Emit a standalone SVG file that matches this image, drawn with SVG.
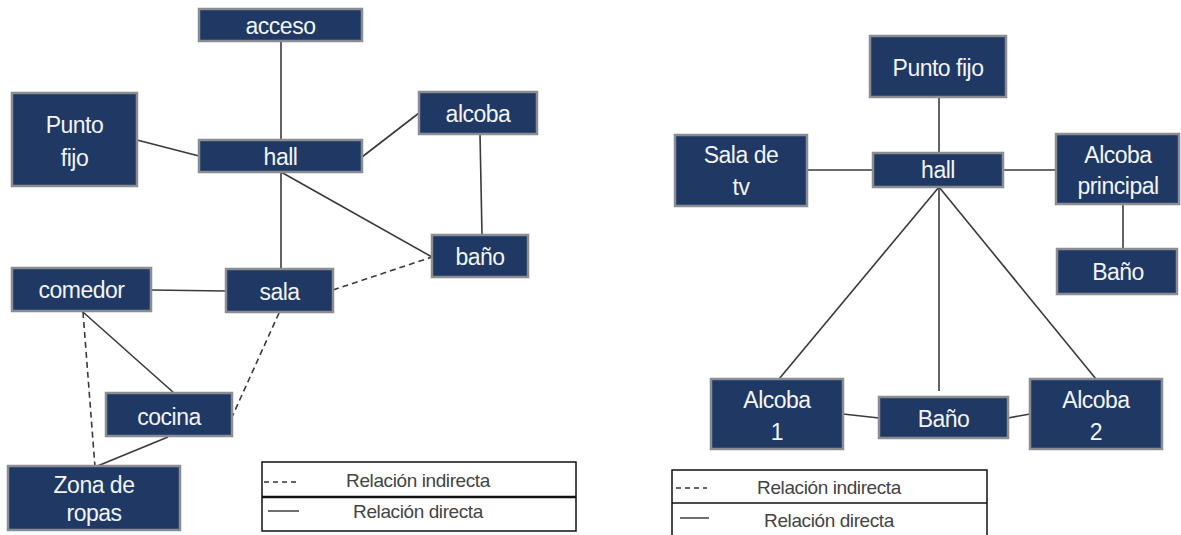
<svg xmlns="http://www.w3.org/2000/svg" width="1181" height="535" viewBox="0 0 1181 535">
<style>
.n rect{fill:#1f3864;stroke:#8a8d92;stroke-width:2.5}
.n text{fill:#f2f4f8;font-family:"Liberation Sans",Arial,sans-serif;font-size:23px;text-anchor:middle;letter-spacing:-0.5px}
.c line{stroke:#3a3a3a;stroke-width:1.6;fill:none}
.c line.d{stroke-dasharray:6 4}
.lg rect,.lg line.b{fill:#fff;stroke:#111;stroke-width:1.5}
.lg line{stroke:#333;stroke-width:1.4}
.lg line.d{stroke-dasharray:5 4}
.lg text{fill:#444;font-family:"Liberation Sans",Arial,sans-serif;font-size:19px;text-anchor:middle;letter-spacing:-0.4px}
</style>
<rect width="1181" height="535" fill="#fff"/>
<g class="c" id="connectors">
<line x1="281" y1="41" x2="281" y2="140"/>
<line x1="137" y1="140" x2="199" y2="156"/>
<line x1="362" y1="157" x2="419" y2="113"/>
<line x1="480" y1="134" x2="482" y2="235"/>
<line x1="281" y1="172" x2="432" y2="257"/>
<line x1="281" y1="172" x2="281" y2="269"/>
<line x1="151" y1="290" x2="226" y2="291"/>
<line class="d" x1="333" y1="290" x2="432" y2="257"/>
<line x1="83" y1="312" x2="174" y2="393"/>
<line class="d" x1="83" y1="312" x2="95" y2="467"/>
<line class="d" x1="279" y1="313" x2="232" y2="417"/>
<line x1="168" y1="437" x2="95" y2="467"/>
<line x1="939" y1="97" x2="939" y2="153"/>
<line x1="807" y1="170" x2="873" y2="170"/>
<line x1="1003" y1="170" x2="1056" y2="170"/>
<line x1="1123" y1="204" x2="1123" y2="249"/>
<line x1="939" y1="187" x2="779" y2="379"/>
<line x1="939" y1="187" x2="939" y2="391"/>
<line x1="939" y1="187" x2="1096" y2="379"/>
<line x1="843" y1="414" x2="879" y2="418"/>
<line x1="1008" y1="418" x2="1030" y2="414"/>
</g>
<g class="n" id="acceso"><rect x="199" y="9" width="163" height="32"/><text x="280.5" y="34">acceso</text></g>
<g class="n" id="punto-fijo-1"><rect x="12" y="93" width="125" height="93"/><text x="74.5" y="133">Punto</text><text x="74.5" y="166">fijo</text></g>
<g class="n" id="hall-1"><rect x="199" y="140" width="163" height="32"/><text x="280.5" y="165">hall</text></g>
<g class="n" id="alcoba"><rect x="419" y="92" width="118" height="42"/><text x="478" y="122">alcoba</text></g>
<g class="n" id="bano-1"><rect x="432" y="235" width="96" height="42"/><text x="480" y="265">baño</text></g>
<g class="n" id="comedor"><rect x="12" y="268" width="139" height="43"/><text x="81.5" y="298">comedor</text></g>
<g class="n" id="sala"><rect x="226" y="269" width="107" height="43"/><text x="279.5" y="300">sala</text></g>
<g class="n" id="cocina"><rect x="106" y="393" width="126" height="43"/><text x="169" y="425">cocina</text></g>
<g class="n" id="zona-de-ropas"><rect x="8" y="466" width="172" height="64"/><text x="94" y="493">Zona de</text><text x="94" y="521">ropas</text></g>
<g class="n" id="punto-fijo-2"><rect x="870" y="36" width="136" height="61"/><text x="938" y="76">Punto fijo</text></g>
<g class="n" id="hall-2"><rect x="873" y="153" width="130" height="34"/><text x="938" y="178">hall</text></g>
<g class="n" id="sala-de-tv"><rect x="675" y="135" width="132" height="71"/><text x="741" y="163">Sala de</text><text x="741" y="195">tv</text></g>
<g class="n" id="alcoba-principal"><rect x="1056" y="134" width="123" height="70"/><text x="1118" y="163">Alcoba</text><text x="1118" y="194">principal</text></g>
<g class="n" id="bano-2"><rect x="1057" y="249" width="120" height="45"/><text x="1118" y="280">Baño</text></g>
<g class="n" id="alcoba-1"><rect x="711" y="379" width="132" height="70"/><text x="777" y="408">Alcoba</text><text x="777" y="440">1</text></g>
<g class="n" id="bano-3"><rect x="879" y="397" width="129" height="41"/><text x="943.5" y="427">Baño</text></g>
<g class="n" id="alcoba-2"><rect x="1030" y="379" width="132" height="70"/><text x="1096" y="408">Alcoba</text><text x="1096" y="440">2</text></g>
<g class="lg" id="legend-1">
<rect x="262" y="462" width="314" height="69"/>
<line class="b" x1="262" y1="497" x2="576" y2="497" style="stroke-width:2.5"/>
<line class="d" x1="264" y1="482" x2="296" y2="482"/>
<line x1="268" y1="511" x2="299" y2="511"/>
<text x="418" y="487">Relación indirecta</text>
<text x="418" y="518">Relación directa</text>
</g>
<g class="lg" id="legend-2">
<rect x="672" y="470" width="315" height="75"/>
<line class="b" x1="672" y1="503" x2="987" y2="503"/>
<line class="d" x1="676" y1="488" x2="707" y2="488"/>
<line x1="680" y1="518" x2="709" y2="518"/>
<text x="829" y="494">Relación indirecta</text>
<text x="829" y="527">Relación directa</text>
</g>
</svg>
